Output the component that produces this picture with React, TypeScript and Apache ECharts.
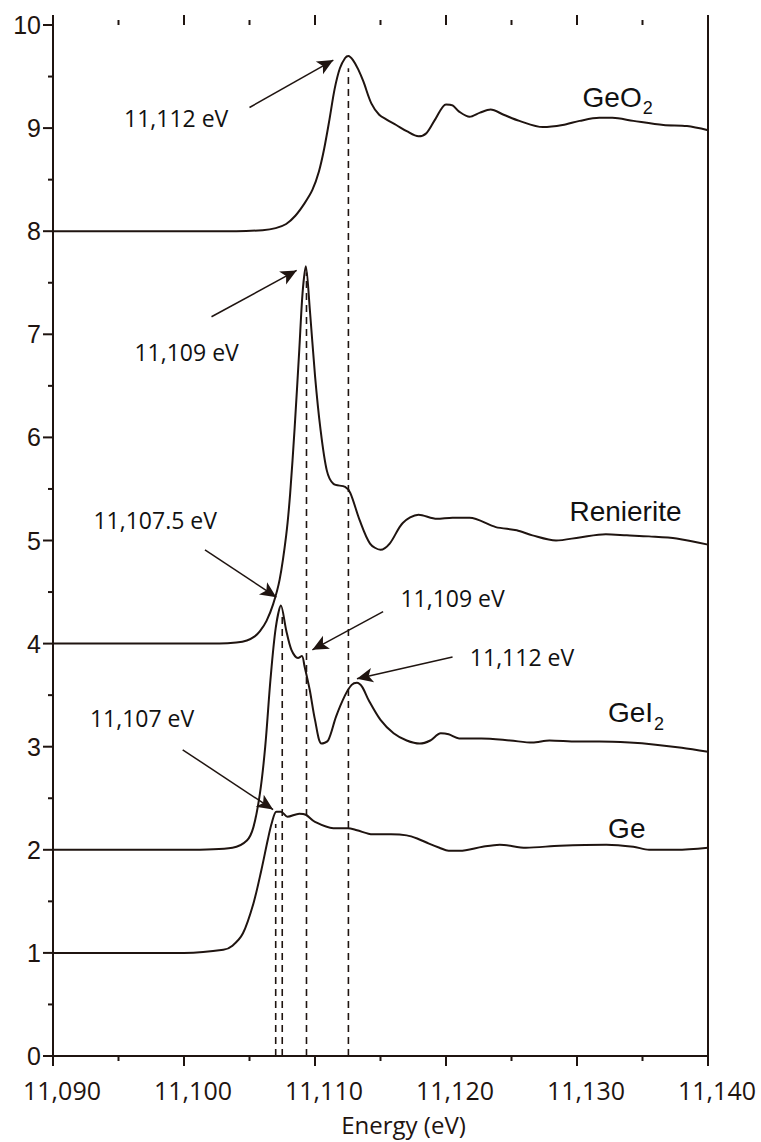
import React, { useEffect, useRef } from 'react';
import * as echarts from 'echarts';

// ---- Data ----
const geo2X = [11090, 11100, 11104, 11106, 11107.0, 11107.8, 11108.5, 11109.2, 11109.8, 11110.3, 11110.7, 11111.1, 11111.5, 11111.9, 11112.3, 11112.55, 11112.9, 11113.3, 11113.7, 11114.3, 11114.9, 11115.5, 11116.2, 11117.0, 11117.9, 11118.5, 11119.2, 11120.0, 11120.5, 11121.0, 11121.8, 11122.6, 11123.4, 11124.4, 11125.6, 11127.4, 11128.9, 11130.2, 11131.7, 11132.7, 11134.3, 11136.6, 11138.4, 11140];
const geo2Y = [8.0, 8.0, 8.0, 8.01, 8.03, 8.07, 8.15, 8.27, 8.4, 8.58, 8.8, 9.08, 9.38, 9.58, 9.68, 9.7, 9.66, 9.57, 9.45, 9.24, 9.13, 9.08, 9.03, 8.97, 8.92, 8.95, 9.09, 9.23, 9.22, 9.16, 9.11, 9.15, 9.18, 9.13, 9.07, 9.01, 9.03, 9.07, 9.1, 9.1, 9.07, 9.03, 9.02, 8.98];

const renX = [11090, 11100, 11102.7, 11104.0, 11104.8, 11105.4, 11105.8, 11106.3, 11106.8, 11107.3, 11107.8, 11108.1, 11108.45, 11108.8, 11109.05, 11109.3, 11109.6, 11110.0, 11110.4, 11110.9, 11111.4, 11112.3, 11112.7, 11113.4, 11114.2, 11115.0, 11115.7, 11116.7, 11117.9, 11119.3, 11120.5, 11121.8, 11123.8, 11125.4, 11126.6, 11128.4, 11130.2, 11132.2, 11133.8, 11135.5, 11137.6, 11140];
const renY = [4.0, 4.0, 4.0, 4.01, 4.03, 4.07, 4.12, 4.22, 4.38, 4.62, 5.05, 5.45, 6.1, 6.85, 7.4, 7.66, 7.25, 6.6, 6.1, 5.68, 5.55, 5.52, 5.46, 5.2, 4.97, 4.91, 4.97, 5.17, 5.25, 5.21, 5.22, 5.22, 5.13, 5.1, 5.05, 5.0, 5.03, 5.06, 5.05, 5.04, 5.02, 4.96];

const gei2X = [11090, 11100, 11103.7, 11104.8, 11105.3, 11105.8, 11106.2, 11106.6, 11107.0, 11107.4, 11107.8, 11108.2, 11108.7, 11109.0, 11109.2, 11109.6, 11110.0, 11110.5, 11111.0, 11111.6, 11112.3, 11112.8, 11113.2, 11113.6, 11114.1, 11115.0, 11116.0, 11117.0, 11118.0, 11118.8, 11119.6, 11120.2, 11121.0, 11122.7, 11124.9, 11126.6, 11127.9, 11130.0, 11131.7, 11134.0, 11136.0, 11138.0, 11140];
const gei2Y = [2.0, 2.0, 2.02, 2.09, 2.22, 2.55, 3.0, 3.65, 4.15, 4.37, 4.13, 3.94, 3.86, 3.88, 3.78, 3.55, 3.26, 3.03, 3.06, 3.29, 3.5, 3.6, 3.62, 3.58, 3.45, 3.26, 3.13, 3.06, 3.03, 3.06, 3.13, 3.12, 3.08, 3.08, 3.06, 3.04, 3.06, 3.05, 3.05, 3.04, 3.02, 2.99, 2.95];

const geX = [11090, 11100, 11103.0, 11103.7, 11104.5, 11105.3, 11105.9, 11106.4, 11106.7, 11107.05, 11107.4, 11107.9, 11108.8, 11109.3, 11110.0, 11111.4, 11112.5, 11113.2, 11114.4, 11115.8, 11117.0, 11117.8, 11118.7, 11119.5, 11120.2, 11121.05, 11122.8, 11124.1, 11126.1, 11128.7, 11132.25, 11134.3, 11135.5, 11137.6, 11140];
const geY = [1.0, 1.0, 1.03, 1.07, 1.19, 1.48, 1.8, 2.1, 2.26, 2.37, 2.37, 2.32, 2.35, 2.34, 2.27, 2.21, 2.21, 2.19, 2.15, 2.15, 2.14, 2.11, 2.06, 2.02, 1.99, 1.99, 2.03, 2.05, 2.02, 2.04, 2.05, 2.03, 2.0, 2.0, 2.02];

// dashed reference lines
const dropX = [11107.0, 11107.5, 11109.35, 11112.55];
const dropTop = [2.25, 4.3, 7.6, 9.58];

// annotations
const annotTexts = ['11,112 eV', '11,109 eV', '11,107.5 eV', '11,109 eV', '11,112 eV', '11,107 eV'];
const annotX = [11099.4, 11100.2, 11097.8, 11120.5, 11125.8, 11096.8];
const annotY = [9.1, 6.83, 5.2, 4.44, 3.87, 3.28];
const arrowFrom = [[11105.0, 9.2], [11102.1, 7.17], [11101.6, 4.91], [11115.2, 4.31], [11120.5, 3.87], [11099.9, 2.97]];
const arrowTo = [[11111.4, 9.66], [11108.6, 7.62], [11107.05, 4.45], [11109.8, 3.94], [11113.2, 3.66], [11106.8, 2.39]];

// curve names
const curveNames = ['GeO', 'Renierite', 'GeI', 'Ge'];
const curveSubs = ['2', '', '2', ''];
const curveLabelX = [11133.1, 11133.7, 11134.5, 11133.8];
const curveLabelY = [9.3, 5.28, 3.33, 2.21];

// axis ticks
const xTicks = [11090, 11100, 11110, 11120, 11130, 11140];
const xMinorTicks = [11095, 11105, 11115, 11125, 11135];
const yTicks = [0, 1, 2, 3, 4, 5, 6, 7, 8, 9, 10];
const yMinorTicks = [0.5, 1.5, 2.5, 3.5, 4.5, 5.5, 6.5, 7.5, 8.5, 9.5];

const pairs = (xs: number[], ys: number[]) => xs.map((x, i) => [x, ys[i]]);
const fmt = (v: number) => String(Math.round(v)).replace(/\B(?=(\d{3})+(?!\d))/g, ',');

const ink = '#1f1410';
const X_MIN = xTicks[0];
const X_MAX = xTicks[xTicks.length - 1];
const Y_MIN = yTicks[0];
const Y_MAX = yTicks[yTicks.length - 1];

export default function App() {
  const ref = useRef<HTMLDivElement>(null);
  useEffect(() => {
    const chart = echarts.init(ref.current!, null, { renderer: 'svg' });
    const curveStyle = (xs: number[], ys: number[], name: string) => ({
      type: 'line',
      name,
      data: pairs(xs, ys),
      symbol: 'none',
      showSymbol: false,
      smooth: 0.3,
      lineStyle: { color: ink, width: 2 },
      silent: true,
      z: 3,
    });
    // tick items: [x, y, side(0 bottom,1 top,2 left), length]
    const tickItems: number[][] = [];
    xTicks.forEach((v) => { tickItems.push([v, Y_MIN, 0, 10]); tickItems.push([v, Y_MAX, 1, 10]); });
    xMinorTicks.forEach((v) => { tickItems.push([v, Y_MIN, 0, 5]); tickItems.push([v, Y_MAX, 1, 5]); });
    yTicks.forEach((v) => tickItems.push([X_MIN, v, 2, 10]));
    yMinorTicks.forEach((v) => tickItems.push([X_MIN, v, 2, 5]));

    const option: any = {
      animation: false,
      backgroundColor: '#ffffff',
      grid: { left: 53, right: 53, top: 25, bottom: 86 },
      xAxis: [
        {
          type: 'value', min: X_MIN, max: X_MAX, interval: 10, position: 'bottom',
          axisLine: { show: true, lineStyle: { color: ink, width: 2 } },
          axisTick: { show: false },
          minorTick: { show: false },
          splitLine: { show: false },
          axisLabel: {
            formatter: (v: number) => fmt(v), fontFamily: 'Open Sans', fontSize: 25, color: ink,
            margin: 21, padding: [0, 0, 0, 18],
          },
          name: 'Energy (eV)', nameLocation: 'middle', nameGap: 56,
          nameTextStyle: { fontFamily: 'Open Sans', fontSize: 24, color: ink, padding: [0, 0, 0, 46] },
        },
        {
          type: 'value', min: X_MIN, max: X_MAX, interval: 10, position: 'top',
          axisLine: { show: true, lineStyle: { color: ink, width: 2 } },
          axisTick: { show: false },
          minorTick: { show: false },
          splitLine: { show: false },
          axisLabel: { show: false },
        },
      ],
      yAxis: [
        {
          type: 'value', min: Y_MIN, max: Y_MAX, interval: 1, position: 'left',
          axisLine: { show: true, lineStyle: { color: ink, width: 2 } },
          axisTick: { show: false },
          minorTick: { show: false },
          splitLine: { show: false },
          axisLabel: { fontFamily: 'Liberation Sans', fontSize: 25, color: ink, margin: 12 },
        },
        {
          type: 'value', min: Y_MIN, max: Y_MAX, interval: 1, position: 'right',
          axisLine: { show: true, lineStyle: { color: ink, width: 2 } },
          axisTick: { show: false },
          axisLabel: { show: false }, splitLine: { show: false },
        },
      ],
      series: [
        curveStyle(geo2X, geo2Y, 'GeO2'),
        curveStyle(renX, renY, 'Renierite'),
        curveStyle(gei2X, gei2Y, 'GeI2'),
        curveStyle(geX, geY, 'Ge'),
        ...dropX.map((x, i) => ({
          type: 'line',
          data: [[x, 0], [x, dropTop[i]]],
          symbol: 'none',
          lineStyle: { color: ink, width: 1.6, type: [7, 5] },
          silent: true,
          z: 2,
        })),
        {
          type: 'custom',
          silent: true,
          clip: false,
          data: tickItems,
          encode: { x: 0, y: 1 },
          renderItem: (_params: any, api: any) => {
            const p = api.coord([api.value(0), api.value(1)]);
            const side = api.value(2);
            const len = api.value(3);
            let dx = 0;
            let dy = 0;
            if (side === 0) dy = len;
            else if (side === 1) dy = -len;
            else dx = -len;
            return {
              type: 'line',
              shape: { x1: p[0], y1: p[1], x2: p[0] + dx, y2: p[1] + dy },
              style: { stroke: ink, lineWidth: 2 },
            };
          },
          z: 6,
        },
        {
          type: 'scatter',
          symbolSize: 0,
          silent: true,
          itemStyle: { opacity: 1 },
          data: annotTexts.map((t, i) => ({ value: [annotX[i], annotY[i]], name: t })),
          label: {
            show: true, position: 'inside', formatter: '{b}', opacity: 1,
            fontFamily: 'Open Sans', fontSize: 23, color: '#111111',
          },
          markLine: {
            silent: true,
            symbol: ['none', 'arrow'],
            symbolSize: [11, 16],
            label: { show: false },
            lineStyle: { color: ink, width: 1.5, type: 'solid', opacity: 1 },
            itemStyle: { color: ink },
            data: arrowFrom.map((f, i) => [{ coord: f }, { coord: arrowTo[i] }]),
          },
          z: 5,
        },
        {
          type: 'scatter',
          symbolSize: 0,
          silent: true,
          itemStyle: { opacity: 1 },
          data: curveNames.map((n, i) => ({ value: [curveLabelX[i], curveLabelY[i]], name: n, sub: curveSubs[i] })),
          label: {
            show: true, position: 'inside', opacity: 1,
            formatter: (p: any) => (p.data.sub ? `{m|${p.data.name}}{s|${p.data.sub}}` : `{m|${p.data.name}}`),
            rich: {
              m: { fontFamily: 'Liberation Sans', fontSize: 28, color: '#111111', lineHeight: 40 },
              s: { fontFamily: 'Liberation Sans', fontSize: 18, color: '#111111', lineHeight: 18, verticalAlign: 'bottom', padding: [0, 0, 0, 1] },
            },
          },
          z: 5,
        },
      ],
    };
    chart.setOption(option);
    return () => chart.dispose();
  }, []);
  return <div ref={ref} style={{ width: 761, height: 1142, position: 'absolute', left: 0, top: 0, background: '#fff' }} />;
}
